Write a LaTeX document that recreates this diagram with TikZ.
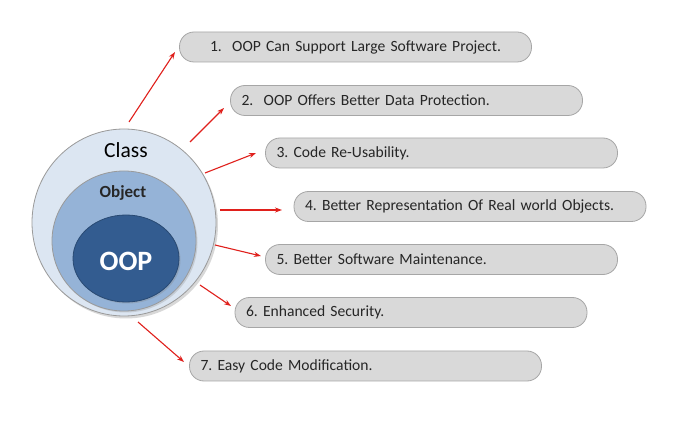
\documentclass[tikz,border=0pt]{standalone}
\usepackage{fontspec}
\setmainfont{Carlito}
\usetikzlibrary{shapes.geometric,arrows.meta,shadows}
\definecolor{boxfill}{HTML}{D9D9D9}
\definecolor{boxline}{HTML}{A6A6A6}
\definecolor{outerfill}{HTML}{DCE6F2}
\definecolor{midfill}{HTML}{95B3D7}
\definecolor{innerfill}{HTML}{335C90}
\definecolor{ringline}{HTML}{9A9A9A}
\definecolor{arrred}{HTML}{E0201C}
\definecolor{txt}{HTML}{262626}
\frenchspacing
\tikzset{
  box/.style={draw=boxline, fill=boxfill, line width=0.8pt, rounded corners=14.5pt,
    minimum width=352pt, minimum height=30pt, text width=330pt, inner xsep=11pt,
    inner ysep=0pt, align=left, font=\fontsize{15.6}{17}\selectfont, text=txt},
  ring/.style={ellipse, draw=ringline, line width=0.8pt, inner sep=0pt},
  arr/.style={draw=arrred, line width=1.1pt, -{Stealth[length=7pt,width=5pt]}},
}
\begin{document}
\begin{tikzpicture}[x=1pt,y=-1pt]
\useasboundingbox (0,0) rectangle (681,422);
\fill[white] (0,0) rectangle (681,422);
% circles
\node[ring, fill=outerfill, minimum width=184pt, minimum height=187pt,
  drop shadow={opacity=0.3, shadow xshift=2pt, shadow yshift=-2.5pt}] (outer) at (124,222.5) {};
\node[ring, fill=midfill, minimum width=144pt, minimum height=140pt,
  drop shadow={opacity=0.25, shadow xshift=1.5pt, shadow yshift=-1.5pt}] (mid) at (124,241) {};
\node[ring, draw=innerfill!80!black, fill=innerfill, minimum width=106pt, minimum height=87pt,
  drop shadow={opacity=0.3, shadow xshift=1.5pt, shadow yshift=-1.5pt}] (inner) at (126,258.5) {};
\node[font=\fontsize{21.5}{23}\selectfont] (tclass) at (126,150) {Class};
\node[font=\bfseries\fontsize{17}{19}\selectfont, text=txt] (tobj) at (123,193) {Object};
\node[font=\bfseries\fontsize{28}{30}\selectfont, text=white] (toop) at (126,261) {OOP};
% boxes
\node[box, align=center] (b1) at (355.5,47) {1.~~OOP Can Support Large Software Project.};
\node[box] (b2) at (406.5,100.5) {2.~~OOP Offers Better Data Protection.};
\node[box] (b3) at (441.5,153) {3. Code Re-Usability.};
\node[box] (b4) at (470,206.5) {4. Better Representation Of Real world Objects.};
\node[box] (b5) at (441.5,259.5) {5. Better Software Maintenance.};
\node[box] (b6) at (411,312.5) {6. Enhanced Security.};
\node[box] (b7) at (365.5,366) {7. Easy Code Modification.};
% arrow end points
\coordinate (s1) at (129,122); \coordinate (e1) at (175,52);
\coordinate (s2) at (190,142); \coordinate (e2) at (224,108);
\coordinate (s3) at (205,173); \coordinate (e3) at (256,153);
\coordinate (s4) at (220,210); \coordinate (e4) at (282,210);
\coordinate (s5) at (215,245); \coordinate (e5) at (261,256);
\coordinate (s6) at (200,285); \coordinate (e6) at (231,306);
\coordinate (s7) at (138,322); \coordinate (e7) at (184,362);
\foreach \i in {1,...,7} { \draw[arr] (s\i) -- (e\i); }
\end{tikzpicture}
\end{document}
